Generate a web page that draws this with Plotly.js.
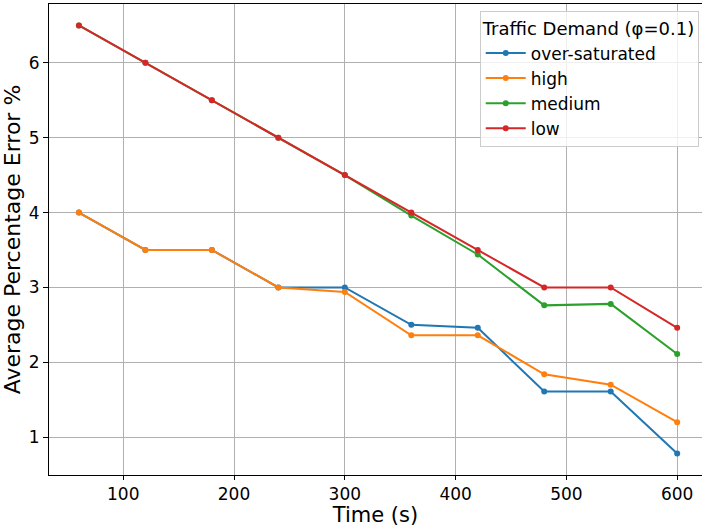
<!DOCTYPE html>
<html>
<head>
<meta charset="utf-8">
<script src="https://cdn.plot.ly/plotly-3.0.1.min.js"></script>
<style>html,body{margin:0;padding:0;background:#fff;}#chart{width:702px;height:527px;}</style>
</head>
<body>
<div id="chart"></div>
<script>
const times = [60, 120, 180, 240, 300, 360, 420, 480, 540, 600];
const overSaturated = [4.0, 3.5, 3.5, 3.0, 3.0, 2.5, 2.46, 1.61, 1.61, 0.78];
const high = [4.0, 3.5, 3.5, 3.0, 2.94, 2.36, 2.36, 1.84, 1.70, 1.20];
const medium = [6.5, 6.0, 5.5, 5.0, 4.5, 3.96, 3.44, 2.76, 2.78, 2.11];
const low = [6.5, 6.0, 5.5, 5.0, 4.5, 4.0, 3.5, 3.0, 3.0, 2.46];
const seriesNames = ["over-saturated", "high", "medium", "low"];
const seriesValues = [overSaturated, high, medium, low];
const colors = ["#1f77b4", "#ff7f0e", "#2ca02c", "#d62728"];

const traces = seriesValues.map((v, i) => ({
  x: times, y: v, name: seriesNames[i], type: "scatter", mode: "lines+markers",
  line: {color: colors[i], width: 2}, marker: {color: colors[i], size: 6}
}));

const layout = {
  width: 702, height: 527,
  margin: {l: 49, r: 0, t: 4, b: 52},
  paper_bgcolor: "#fff", plot_bgcolor: "#fff",
  font: {family: "DejaVu Sans", color: "#000"},
  showlegend: true,
  xaxis: {
    range: [33, 622.4], tickvals: [100, 200, 300, 400, 500, 600],
    showgrid: true, gridcolor: "#b0b0b0", gridwidth: 1, zeroline: false,
    showline: true, linecolor: "#000", linewidth: 1, mirror: true,
    ticks: "outside", ticklen: 4, tickcolor: "#000",
    tickfont: {size: 17}, title: {text: "Time (s)", font: {size: 21}}
  },
  yaxis: {
    range: [0.494, 6.786], tickvals: [1, 2, 3, 4, 5, 6],
    showgrid: true, gridcolor: "#b0b0b0", gridwidth: 1, zeroline: false,
    showline: true, linecolor: "#000", linewidth: 1,
    ticks: "outside", ticklen: 5, tickcolor: "#000",
    tickfont: {size: 17}, title: {text: "Average Percentage Error %", font: {size: 22}, standoff: 8}
  },
  legend: {
    x: 0.995, xanchor: "right", y: 0.985, yanchor: "top",
    bgcolor: "rgba(255,255,255,0.8)", bordercolor: "#cccccc", borderwidth: 1,
    font: {size: 17}, title: {text: "Traffic Demand (φ=0.1)", font: {size: 18}},
    tracegroupgap: 0, itemwidth: 40
  }
};
Plotly.newPlot("chart", traces, layout, {displayModeBar: false, staticPlot: true});
</script>
</body>
</html>
